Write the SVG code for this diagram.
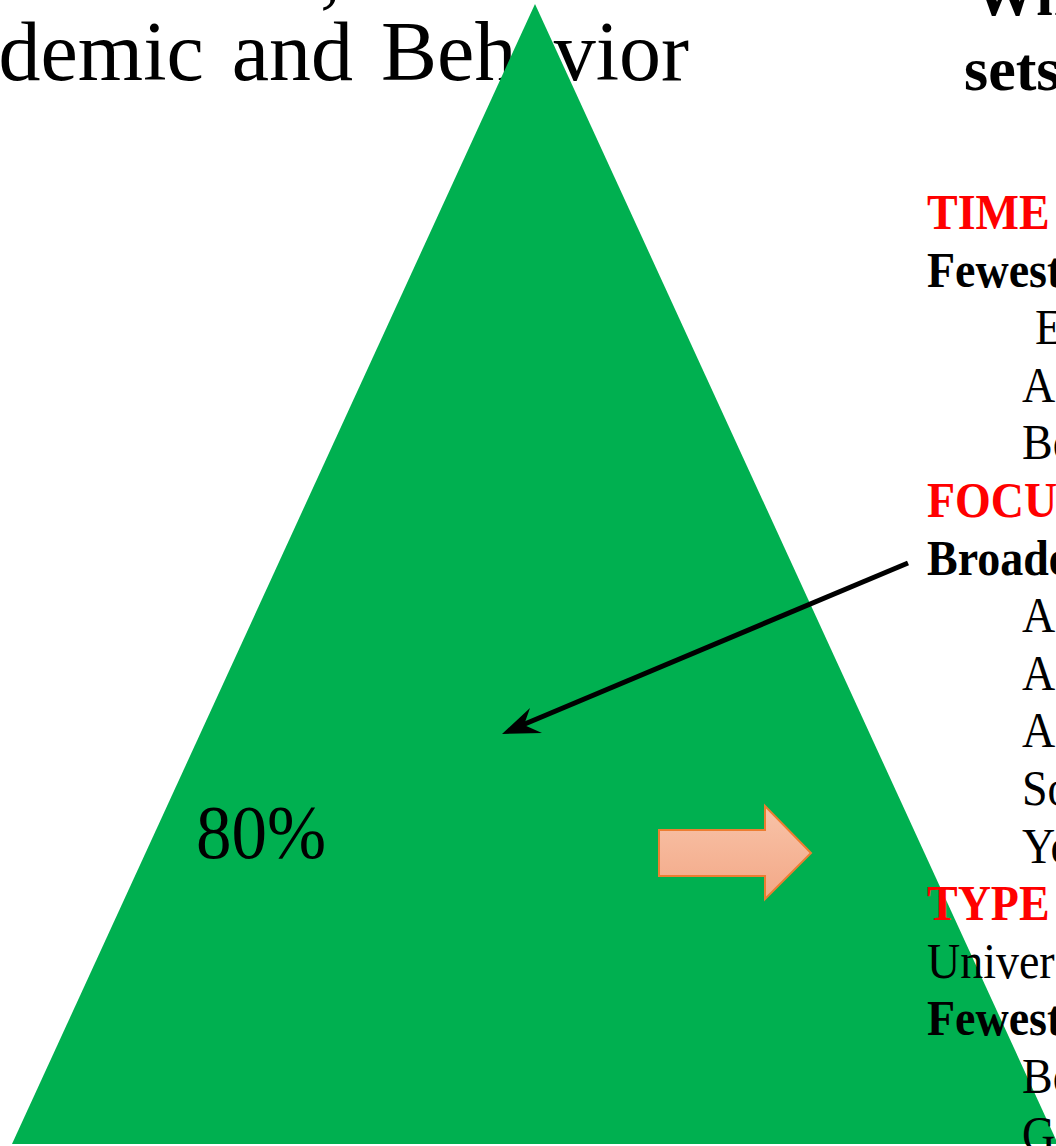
<svg xmlns="http://www.w3.org/2000/svg" width="1056" height="1146" viewBox="0 0 1056 1146">
  <defs>
    <linearGradient id="peach" x1="0" y1="0" x2="0" y2="1">
      <stop offset="0" stop-color="#F8C3A8"/>
      <stop offset="1" stop-color="#F3A887"/>
    </linearGradient>
    <style>
      .serif { font-family: "Liberation Serif", "Times New Roman", serif; }
      .title { font-size: 84px; fill: #000; }
      .body { font-size: 46px; fill: #000; }
      .bold { font-weight: bold; }
      .red { fill: #FF0000; }
      .head { font-size: 62px; font-weight: bold; fill: #000; }
    </style>
  </defs>
  <rect x="0" y="0" width="1056" height="1146" fill="#FFFFFF"/>

  <g id="title">
    <text class="serif title" x="320" y="-2">,</text>
    <text class="serif title" x="689" y="80" text-anchor="end" word-spacing="7">Academic and Behavior</text>
  </g>

  <g id="triangle">
    <polygon points="535,4 12,1144 1058,1144" fill="#00B050"/>
    <text class="serif" transform="translate(196,858) scale(1,1.08)" x="0" y="0" font-size="71">80%</text>
  </g>

  <g id="block-arrow">
    <polygon points="659,830 765,830 765,806 811,853 765,899 765,876 659,876" fill="url(#peach)" stroke="#ED7D31" stroke-width="2"/>
  </g>

  <g id="right-heading" class="serif">
    <text class="head" x="974" y="15">Wh</text>
    <text class="head" x="964" y="90">sets</text>
  </g>

  <g id="right-list" class="serif" transform="scale(1,1.08)">
    <text class="body bold red" x="927" y="212.04">TIME</text>
    <text class="body bold" x="927" y="265.37">Fewest</text>
    <text class="body" x="1035" y="318.70">E</text>
    <text class="body" x="1022" y="372.04">A</text>
    <text class="body" x="1022" y="425.37">Bo</text>
    <text class="body bold red" x="927" y="478.70">FOCU</text>
    <text class="body bold" x="927" y="532.04">Broade</text>
    <text class="body" x="1022" y="585.37">A</text>
    <text class="body" x="1022" y="638.70">A</text>
    <text class="body" x="1022" y="692.04">A</text>
    <text class="body" x="1022" y="745.37">So</text>
    <text class="body" x="1022" y="798.70">Yo</text>
    <text class="body bold red" x="927" y="852.04">TYPE</text>
    <text class="body" x="927" y="905.37">Univer</text>
    <text class="body bold" x="927" y="958.70">Fewest</text>
    <text class="body" x="1022" y="1012.04">Bo</text>
    <text class="body" x="1022" y="1065.37">G</text>
  </g>

  <g id="connectors">
    <line x1="908" y1="563" x2="520" y2="726" stroke="#000" stroke-width="5"/>
    <polygon points="502,734 530,708 524,725 542,733" fill="#000"/>
  </g>
</svg>
